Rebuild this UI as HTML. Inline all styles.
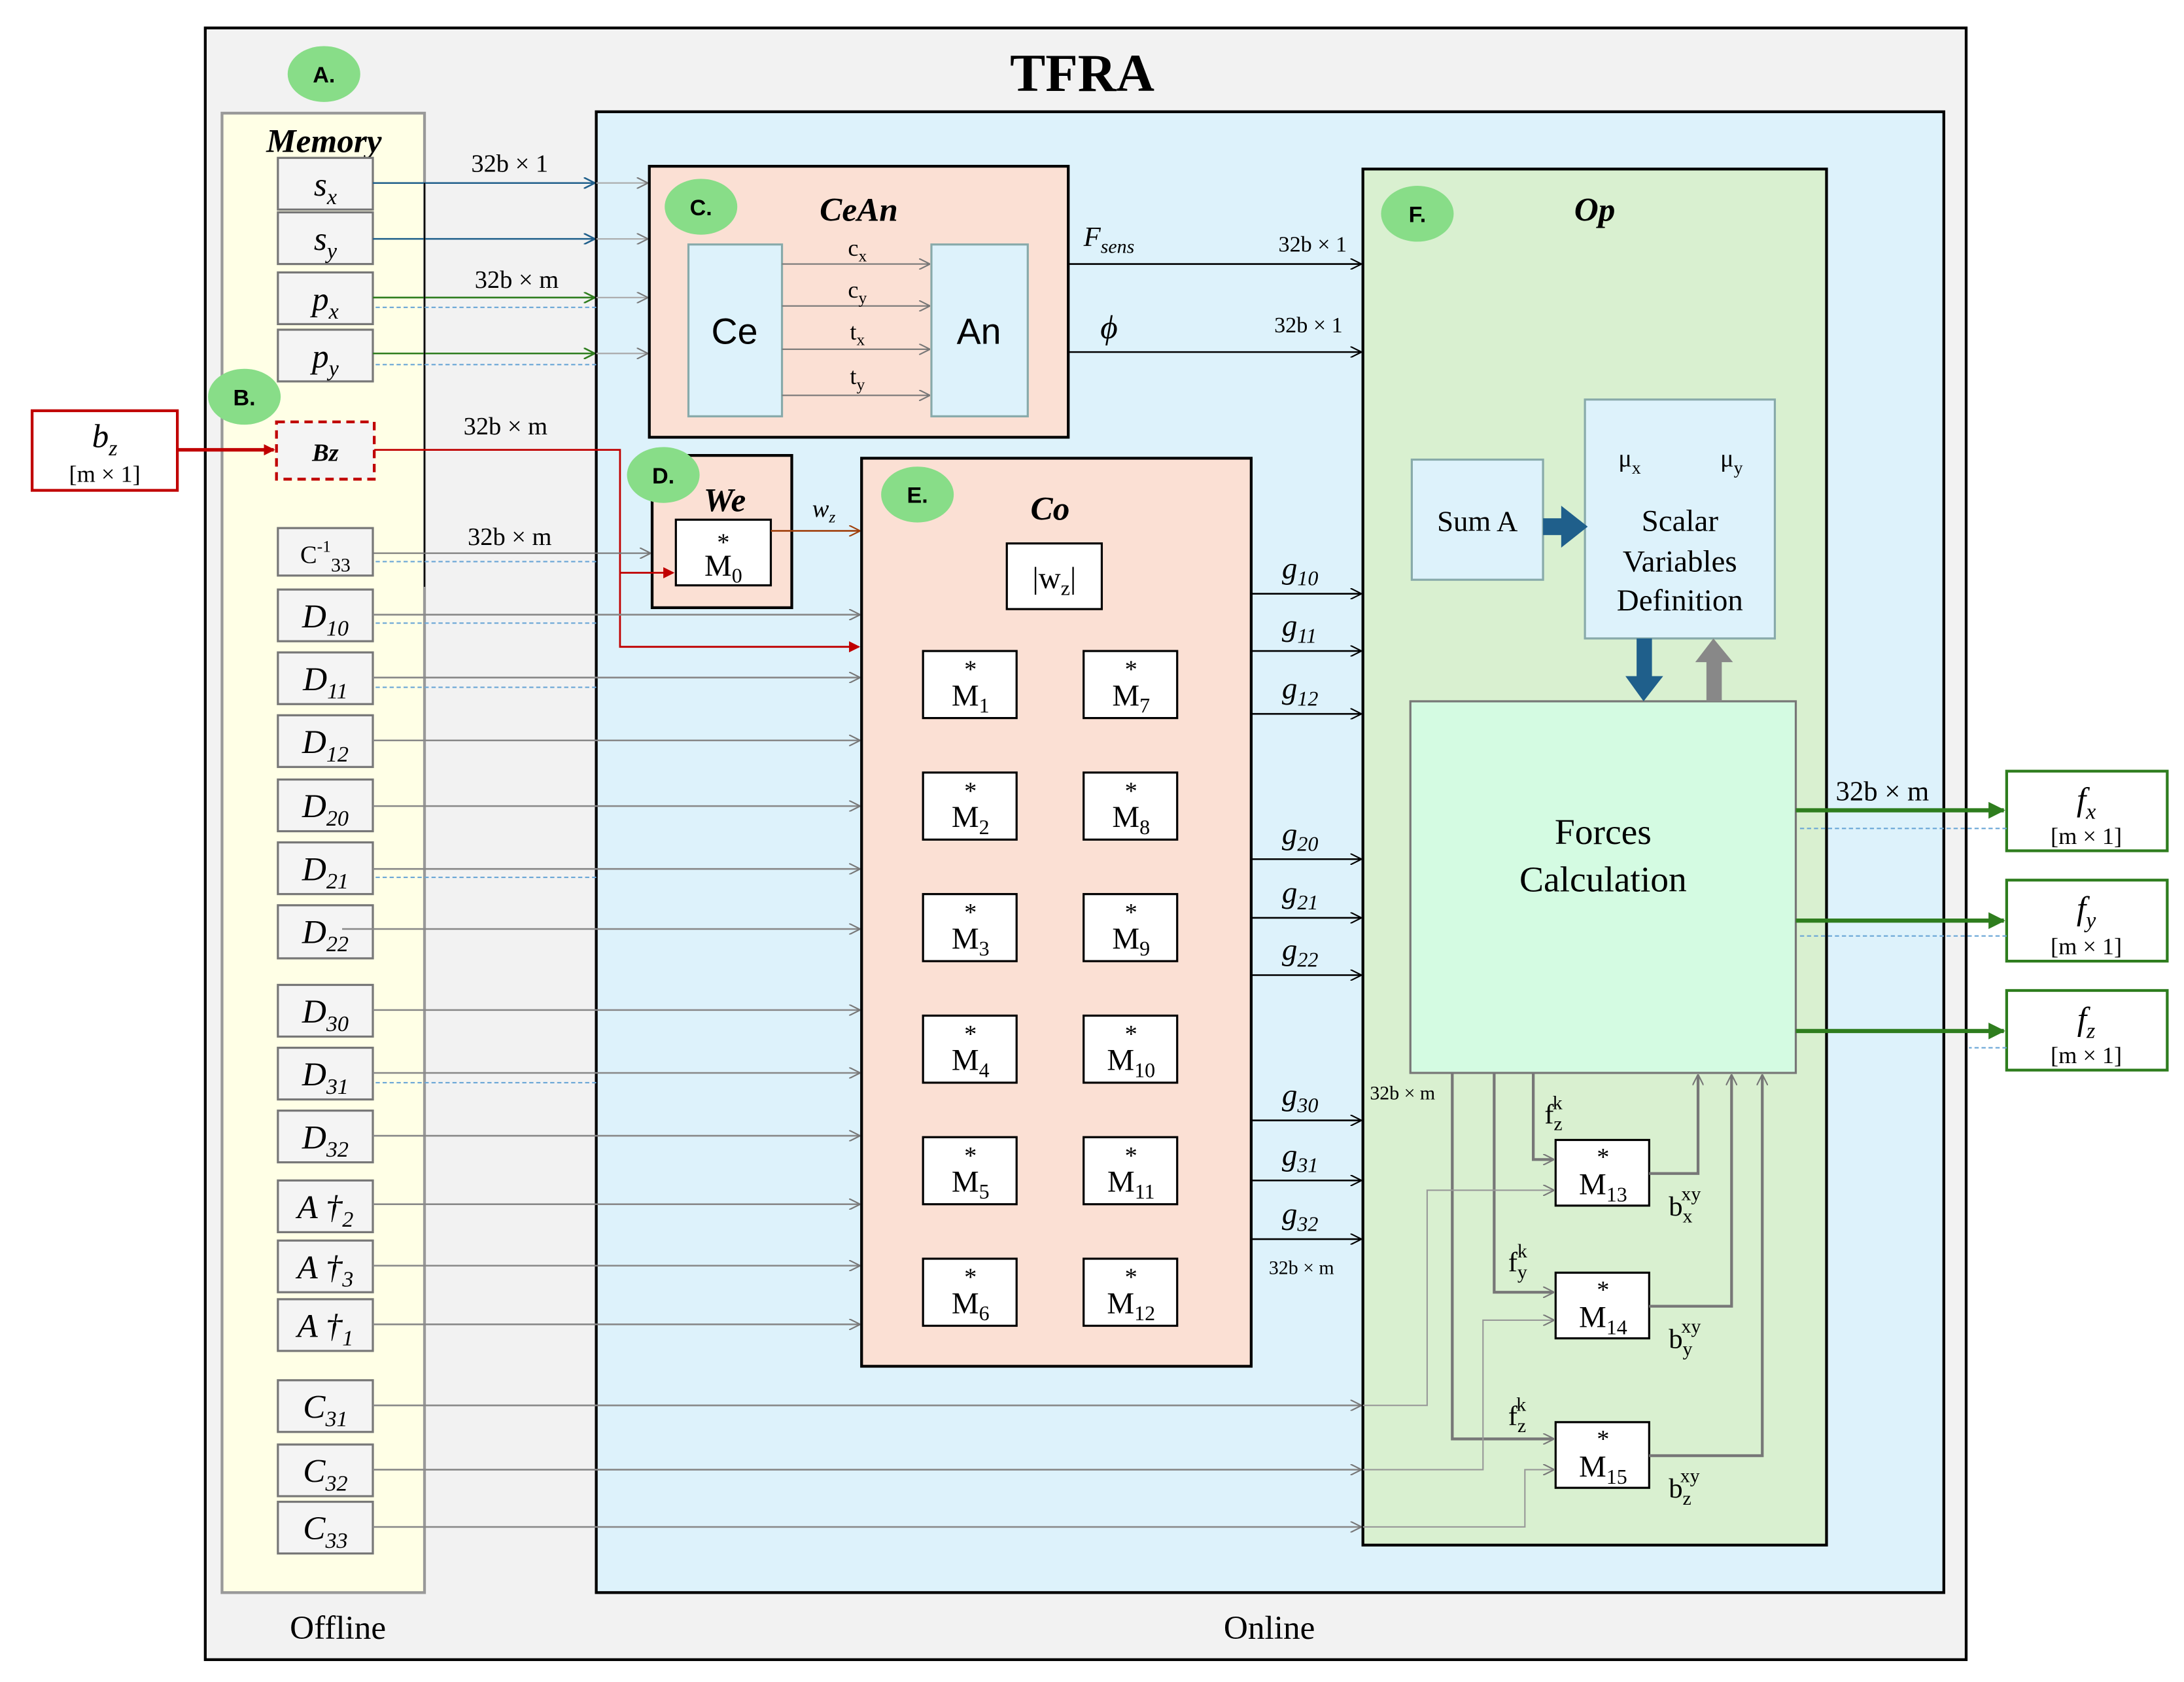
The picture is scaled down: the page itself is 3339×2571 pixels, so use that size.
<!DOCTYPE html>
<html><head><meta charset="utf-8"><style>
html,body{margin:0;padding:0;background:#fff}
svg{display:block}
text{font-family:"Liberation Serif",serif;fill:#000}
</style></head><body>
<svg width="3339" height="2571" viewBox="0 0 1564 1204" preserveAspectRatio="none" xmlns="http://www.w3.org/2000/svg">
<defs>
<marker id="ak" markerWidth="8" markerHeight="8" refX="7" refY="4" orient="auto" markerUnits="userSpaceOnUse"><path d="M0,0 L8,4 L0,8" fill="none" stroke="#000" stroke-width="1"/></marker>
<marker id="ag" markerWidth="8" markerHeight="8" refX="7" refY="4" orient="auto" markerUnits="userSpaceOnUse"><path d="M0,0 L8,4 L0,8" fill="none" stroke="#777" stroke-width="1"/></marker>
<marker id="ab" markerWidth="8" markerHeight="8" refX="7" refY="4" orient="auto" markerUnits="userSpaceOnUse"><path d="M0,0 L8,4 L0,8" fill="none" stroke="#1f5f8b" stroke-width="1.2"/></marker>
<marker id="agr" markerWidth="8" markerHeight="8" refX="7" refY="4" orient="auto" markerUnits="userSpaceOnUse"><path d="M0,0 L8,4 L0,8" fill="none" stroke="#2e7d1e" stroke-width="1.2"/></marker>
<marker id="agr2" markerWidth="12" markerHeight="12" refX="11" refY="6" orient="auto" markerUnits="userSpaceOnUse"><path d="M0,0 L12,6 L0,12 Z" fill="#2e7d1e"/></marker>
<marker id="ar" markerWidth="8" markerHeight="8" refX="7" refY="4" orient="auto" markerUnits="userSpaceOnUse"><path d="M0,0 L8,4 L0,8 Z" fill="#c00000"/></marker>
<marker id="abr" markerWidth="8" markerHeight="8" refX="7" refY="4" orient="auto" markerUnits="userSpaceOnUse"><path d="M0,0 L8,4 L0,8" fill="none" stroke="#a0400c" stroke-width="1"/></marker>
</defs>

<!-- outer -->
<rect x="147" y="20" width="1261" height="1168" fill="#f2f2f2" stroke="#000" stroke-width="2"/>
<text x="775" y="65" font-size="38" font-weight="bold" text-anchor="middle">TFRA</text>

<!-- memory -->
<rect x="159" y="81" width="145" height="1059" fill="#ffffe6" stroke="#999" stroke-width="2"/>
<text x="232" y="109" font-size="24" font-weight="bold" font-style="italic" text-anchor="middle">Memory</text>

<!-- online -->
<rect x="427" y="80" width="965" height="1060" fill="#ddf2fb" stroke="#000" stroke-width="2"/>

<text x="242" y="1173" font-size="24" text-anchor="middle">Offline</text>
<text x="909" y="1173" font-size="24" text-anchor="middle">Online</text>

<!-- memory items -->
<g fill="#f4f4f4" stroke="#777" stroke-width="1.5">
<rect x="199" y="113" width="68" height="37"/>
<rect x="199" y="152" width="68" height="37"/>
<rect x="199" y="195" width="68" height="37"/>
<rect x="199" y="236" width="68" height="37"/>
<rect x="199" y="378" width="68" height="34"/>
<rect x="199" y="422" width="68" height="37"/>
<rect x="199" y="467" width="68" height="37"/>
<rect x="199" y="512" width="68" height="37"/>
<rect x="199" y="558" width="68" height="37"/>
<rect x="199" y="603" width="68" height="37"/>
<rect x="199" y="648" width="68" height="38"/>
<rect x="199" y="705" width="68" height="37"/>
<rect x="199" y="750" width="68" height="37"/>
<rect x="199" y="795" width="68" height="37"/>
<rect x="199" y="845" width="68" height="37"/>
<rect x="199" y="888" width="68" height="37"/>
<rect x="199" y="930" width="68" height="37"/>
<rect x="199" y="988" width="68" height="37"/>
<rect x="199" y="1034" width="68" height="37"/>
<rect x="199" y="1075" width="68" height="37"/>
</g>
<rect x="198" y="302" width="70" height="41" fill="#f4f4f4" stroke="#c00000" stroke-width="2" stroke-dasharray="6,4"/>
<g font-size="24" font-style="italic" text-anchor="middle">
<text x="233" y="140">s<tspan font-size="16" dy="6">x</tspan></text>
<text x="233" y="179">s<tspan font-size="16" dy="6">y</tspan></text>
<text x="233" y="222">p<tspan font-size="16" dy="6">x</tspan></text>
<text x="233" y="263">p<tspan font-size="16" dy="6">y</tspan></text>
<text x="233" y="330" font-size="18" font-weight="bold">Bz</text>
<text x="233" y="403" font-size="18" font-style="normal">C<tspan font-size="12" dy="-8">-1</tspan><tspan font-size="14" dy="14">33</tspan></text>
<text x="233" y="449">D<tspan font-size="16" dy="6">10</tspan></text>
<text x="233" y="494">D<tspan font-size="16" dy="6">11</tspan></text>
<text x="233" y="539">D<tspan font-size="16" dy="6">12</tspan></text>
<text x="233" y="585">D<tspan font-size="16" dy="6">20</tspan></text>
<text x="233" y="630">D<tspan font-size="16" dy="6">21</tspan></text>
<text x="233" y="675">D<tspan font-size="16" dy="6">22</tspan></text>
<text x="233" y="732">D<tspan font-size="16" dy="6">30</tspan></text>
<text x="233" y="777">D<tspan font-size="16" dy="6">31</tspan></text>
<text x="233" y="822">D<tspan font-size="16" dy="6">32</tspan></text>
<text x="233" y="872">A †<tspan font-size="16" dy="6">2</tspan></text>
<text x="233" y="915">A †<tspan font-size="16" dy="6">3</tspan></text>
<text x="233" y="957">A †<tspan font-size="16" dy="6">1</tspan></text>
<text x="233" y="1015">C<tspan font-size="16" dy="6">31</tspan></text>
<text x="233" y="1061">C<tspan font-size="16" dy="6">32</tspan></text>
<text x="233" y="1102">C<tspan font-size="16" dy="6">33</tspan></text>
</g>

<!-- bz input -->
<rect x="23" y="294" width="104" height="57" fill="#fff" stroke="#c00000" stroke-width="2"/>
<text x="75" y="320" font-size="24" font-style="italic" text-anchor="middle">b<tspan font-size="16" dy="6">z</tspan></text>
<text x="75" y="345" font-size="17" text-anchor="middle">[m × 1]</text>
<line x1="127" y1="322" x2="196" y2="322" stroke="#c00000" stroke-width="2.5" marker-end="url(#ar)"/>

<!-- CeAn -->
<rect x="465" y="119" width="300" height="194" fill="#fbe0d4" stroke="#000" stroke-width="2"/>
<text x="615" y="158" font-size="24" font-weight="bold" font-style="italic" text-anchor="middle">CeAn</text>
<rect x="493" y="175" width="67" height="123" fill="#ddf2fb" stroke="#8aa" stroke-width="1.5"/>
<rect x="667" y="175" width="69" height="123" fill="#ddf2fb" stroke="#8aa" stroke-width="1.5"/>
<text x="526" y="246" font-size="26" font-family="Liberation Sans" text-anchor="middle" style="font-family:'Liberation Sans',sans-serif">Ce</text>
<text x="701" y="246" font-size="26" text-anchor="middle" style="font-family:'Liberation Sans',sans-serif">An</text>
<g stroke="#777" stroke-width="1">
<line x1="560" y1="189" x2="665" y2="189" marker-end="url(#ag)"/>
<line x1="560" y1="219" x2="665" y2="219" marker-end="url(#ag)"/>
<line x1="560" y1="250" x2="665" y2="250" marker-end="url(#ag)"/>
<line x1="560" y1="283" x2="665" y2="283" marker-end="url(#ag)"/>
</g>
<g font-size="17" text-anchor="middle">
<text x="614" y="183">c<tspan font-size="12" dy="4">x</tspan></text>
<text x="614" y="213">c<tspan font-size="12" dy="4">y</tspan></text>
<text x="614" y="243">t<tspan font-size="12" dy="4">x</tspan></text>
<text x="614" y="275">t<tspan font-size="12" dy="4">y</tspan></text>
</g>

<!-- We -->
<rect x="467" y="326" width="100" height="109" fill="#fbe0d4" stroke="#000" stroke-width="2"/>
<text x="519" y="366" font-size="24" font-weight="bold" font-style="italic" text-anchor="middle">We</text>
<rect x="484" y="372" width="68" height="47" fill="#fff" stroke="#000" stroke-width="1.5"/>
<text x="518" y="394" font-size="18" text-anchor="middle">*</text>
<text x="518" y="412" font-size="22" text-anchor="middle">M<tspan font-size="15" dy="5">0</tspan></text>

<!-- Co -->
<rect x="617" y="328" width="279" height="650" fill="#fbe0d4" stroke="#000" stroke-width="2"/>
<text x="752" y="372" font-size="24" font-weight="bold" font-style="italic" text-anchor="middle">Co</text>
<rect x="721" y="389" width="68" height="47" fill="#fff" stroke="#000" stroke-width="1.5"/>
<text x="755" y="421" font-size="22" text-anchor="middle">|w<tspan font-size="15" dy="5">z</tspan><tspan dy="-5">|</tspan></text>
<g fill="#fff" stroke="#000" stroke-width="1.5">
<rect x="661" y="466" width="67" height="48"/><rect x="776" y="466" width="67" height="48"/>
<rect x="661" y="553" width="67" height="48"/><rect x="776" y="553" width="67" height="48"/>
<rect x="661" y="640" width="67" height="48"/><rect x="776" y="640" width="67" height="48"/>
<rect x="661" y="727" width="67" height="48"/><rect x="776" y="727" width="67" height="48"/>
<rect x="661" y="814" width="67" height="48"/><rect x="776" y="814" width="67" height="48"/>
<rect x="661" y="901" width="67" height="48"/><rect x="776" y="901" width="67" height="48"/>
</g>
<g font-size="22" text-anchor="middle">
<text x="695" y="485" font-size="18">*</text><text x="695" y="505">M<tspan font-size="15" dy="5">1</tspan></text>
<text x="810" y="485" font-size="18">*</text><text x="810" y="505">M<tspan font-size="15" dy="5">7</tspan></text>
<text x="695" y="572" font-size="18">*</text><text x="695" y="592">M<tspan font-size="15" dy="5">2</tspan></text>
<text x="810" y="572" font-size="18">*</text><text x="810" y="592">M<tspan font-size="15" dy="5">8</tspan></text>
<text x="695" y="659" font-size="18">*</text><text x="695" y="679">M<tspan font-size="15" dy="5">3</tspan></text>
<text x="810" y="659" font-size="18">*</text><text x="810" y="679">M<tspan font-size="15" dy="5">9</tspan></text>
<text x="695" y="746" font-size="18">*</text><text x="695" y="766">M<tspan font-size="15" dy="5">4</tspan></text>
<text x="810" y="746" font-size="18">*</text><text x="810" y="766">M<tspan font-size="15" dy="5">10</tspan></text>
<text x="695" y="833" font-size="18">*</text><text x="695" y="853">M<tspan font-size="15" dy="5">5</tspan></text>
<text x="810" y="833" font-size="18">*</text><text x="810" y="853">M<tspan font-size="15" dy="5">11</tspan></text>
<text x="695" y="920" font-size="18">*</text><text x="695" y="940">M<tspan font-size="15" dy="5">6</tspan></text>
<text x="810" y="920" font-size="18">*</text><text x="810" y="940">M<tspan font-size="15" dy="5">12</tspan></text>
</g>

<!-- Op -->
<rect x="976" y="121" width="332" height="985" fill="#d9f0d0" stroke="#000" stroke-width="2"/>
<text x="1142" y="158" font-size="24" font-weight="bold" font-style="italic" text-anchor="middle">Op</text>
<rect x="1011" y="329" width="94" height="86" fill="#ddf2fb" stroke="#8aa" stroke-width="1.5"/>
<text x="1058" y="380" font-size="21" text-anchor="middle">Sum A</text>
<rect x="1135" y="286" width="136" height="171" fill="#ddf2fb" stroke="#8aa" stroke-width="1.5"/>
<text x="1167" y="334" font-size="18" text-anchor="middle">μ<tspan font-size="13" dy="5">x</tspan></text>
<text x="1240" y="334" font-size="18" text-anchor="middle">μ<tspan font-size="13" dy="5">y</tspan></text>
<text x="1203" y="380" font-size="22" text-anchor="middle">Scalar</text>
<text x="1203" y="409" font-size="22" text-anchor="middle">Variables</text>
<text x="1203" y="437" font-size="22" text-anchor="middle">Definition</text>
<rect x="1010" y="502" width="276" height="266" fill="#d4fbe2" stroke="#777" stroke-width="1.5"/>
<text x="1148" y="604" font-size="26" text-anchor="middle">Forces</text>
<text x="1148" y="638" font-size="26" text-anchor="middle">Calculation</text>
<!-- thick arrows -->
<rect x="1105" y="371" width="15" height="12" fill="#1f5f8b"/><path d="M1118,362 L1137,377 L1118,392 Z" fill="#1f5f8b"/>
<rect x="1172" y="457" width="11" height="28" fill="#1f5f8b"/><path d="M1164,484 L1191,484 L1177,502 Z" fill="#1f5f8b"/>
<rect x="1222" y="473" width="11" height="29" fill="#888"/><path d="M1214,474 L1241,474 L1227,457 Z" fill="#888"/>

<g fill="#fff" stroke="#000" stroke-width="1.5">
<rect x="1114" y="816" width="67" height="47"/>
<rect x="1114" y="911" width="67" height="47"/>
<rect x="1114" y="1018" width="67" height="47"/>
</g>
<g font-size="22" text-anchor="middle">
<text x="1148" y="834" font-size="18">*</text><text x="1148" y="855">M<tspan font-size="15" dy="5">13</tspan></text>
<text x="1148" y="929" font-size="18">*</text><text x="1148" y="950">M<tspan font-size="15" dy="5">14</tspan></text>
<text x="1148" y="1036" font-size="18">*</text><text x="1148" y="1057">M<tspan font-size="15" dy="5">15</tspan></text>
</g>
<g font-size="20">
<text x="1106" y="804">f<tspan font-size="14" dy="5">z</tspan><tspan font-size="14" dx="-7" dy="-15">k</tspan></text>
<text x="1080" y="910">f<tspan font-size="14" dy="5">y</tspan><tspan font-size="14" dx="-7" dy="-15">k</tspan></text>
<text x="1080" y="1020">f<tspan font-size="14" dy="5">z</tspan><tspan font-size="14" dx="-7" dy="-15">k</tspan></text>
<text x="1195" y="870">b<tspan font-size="14" dy="5">x</tspan><tspan font-size="14" dx="-8" dy="-16">xy</tspan></text>
<text x="1195" y="965">b<tspan font-size="14" dy="5">y</tspan><tspan font-size="14" dx="-8" dy="-16">xy</tspan></text>
<text x="1195" y="1072">b<tspan font-size="14" dy="5">z</tspan><tspan font-size="14" dx="-8" dy="-16">xy</tspan></text>
</g>
<text x="981" y="787" font-size="14">32b × m</text>
<!-- inner gray connectors -->
<g stroke="#777" stroke-width="2" fill="none">
<polyline points="1098,768 1098,830 1112,830" marker-end="url(#ag)"/>
<polyline points="1070,768 1070,925 1112,925" marker-end="url(#ag)"/>
<polyline points="1040,768 1040,1030 1112,1030" marker-end="url(#ag)"/>
<polyline points="1181,840 1216,840 1216,770" marker-end="url(#ag)"/>
<polyline points="1181,935 1240,935 1240,770" marker-end="url(#ag)"/>
<polyline points="1181,1042 1262,1042 1262,770" marker-end="url(#ag)"/>
</g>
<g stroke="#999" stroke-width="1" fill="none">
<polyline points="976,1006 1022,1006 1022,852 1112,852" marker-end="url(#ag)"/>
<polyline points="976,1052 1062,1052 1062,945 1112,945" marker-end="url(#ag)"/>
<polyline points="976,1093 1092,1093 1092,1052 1112,1052" marker-end="url(#ag)"/>
</g>

<!-- outputs -->
<g fill="#fff" stroke="#2e7d1e" stroke-width="2">
<rect x="1437" y="552" width="115" height="57"/>
<rect x="1437" y="630" width="115" height="58"/>
<rect x="1437" y="709" width="115" height="57"/>
</g>
<g text-anchor="middle">
<text x="1494" y="580" font-size="24" font-style="italic">f<tspan font-size="16" dy="6">x</tspan></text><text x="1494" y="604" font-size="17">[m × 1]</text>
<text x="1494" y="658" font-size="24" font-style="italic">f<tspan font-size="16" dy="6">y</tspan></text><text x="1494" y="683" font-size="17">[m × 1]</text>
<text x="1494" y="737" font-size="24" font-style="italic">f<tspan font-size="16" dy="6">z</tspan></text><text x="1494" y="761" font-size="17">[m × 1]</text>
</g>
<g stroke="#2e7d1e" stroke-width="3">
<line x1="1286" y1="580" x2="1435" y2="580" marker-end="url(#agr2)"/>
<line x1="1286" y1="659" x2="1435" y2="659" marker-end="url(#agr2)"/>
<line x1="1286" y1="738" x2="1435" y2="738" marker-end="url(#agr2)"/>
</g>
<g stroke="#6aa6d6" stroke-width="1" stroke-dasharray="3,2">
<line x1="1437" y1="593" x2="1288" y2="593"/>
<line x1="1437" y1="670" x2="1288" y2="670"/>
<line x1="1437" y1="750" x2="1410" y2="750"/>
</g>
<text x="1348" y="573" font-size="20" text-anchor="middle">32b × m</text>

<!-- memory to online arrows -->
<line x1="267" y1="131" x2="425" y2="131" stroke="#1f5f8b" stroke-width="1.2" marker-end="url(#ab)"/>
<line x1="267" y1="171" x2="425" y2="171" stroke="#1f5f8b" stroke-width="1.2" marker-end="url(#ab)"/>
<line x1="267" y1="213" x2="425" y2="213" stroke="#2e7d1e" stroke-width="1.2" marker-end="url(#agr)"/>
<line x1="267" y1="253" x2="425" y2="253" stroke="#2e7d1e" stroke-width="1.2" marker-end="url(#agr)"/>
<g stroke="#aaa" stroke-width="1">
<line x1="427" y1="131" x2="463" y2="131" marker-end="url(#ag)"/>
<line x1="427" y1="171" x2="463" y2="171" marker-end="url(#ag)"/>
<line x1="427" y1="213" x2="463" y2="213" marker-end="url(#ag)"/>
<line x1="427" y1="253" x2="463" y2="253" marker-end="url(#ag)"/>
</g>
<line x1="304" y1="131" x2="304" y2="420" stroke="#000" stroke-width="1"/>
<g font-size="18" text-anchor="middle">
<text x="365" y="123">32b × 1</text>
<text x="370" y="206">32b × m</text>
<text x="362" y="311">32b × m</text>
<text x="365" y="390">32b × m</text>
</g>
<!-- Bz red -->
<g stroke="#c00000" stroke-width="1.3" fill="none">
<polyline points="268,322 444,322 444,463 615,463" marker-end="url(#ar)"/>
<polyline points="444,410 482,410" marker-end="url(#ar)"/>
</g>
<line x1="267" y1="396" x2="465" y2="396" stroke="#777" stroke-width="1" marker-end="url(#ag)"/>
<line x1="552" y1="380" x2="615" y2="380" stroke="#a0400c" stroke-width="1.2" marker-end="url(#abr)"/>
<text x="590" y="370" font-size="18" font-style="italic" text-anchor="middle">w<tspan font-size="12" dy="4">z</tspan></text>

<g stroke="#888" stroke-width="1.2">
<line x1="267" y1="440" x2="615" y2="440" marker-end="url(#ag)"/>
<line x1="267" y1="485" x2="615" y2="485" marker-end="url(#ag)"/>
<line x1="267" y1="530" x2="615" y2="530" marker-end="url(#ag)"/>
<line x1="267" y1="577" x2="615" y2="577" marker-end="url(#ag)"/>
<line x1="267" y1="622" x2="615" y2="622" marker-end="url(#ag)"/>
<line x1="245" y1="665" x2="615" y2="665" marker-end="url(#ag)"/>
<line x1="267" y1="723" x2="615" y2="723" marker-end="url(#ag)"/>
<line x1="267" y1="768" x2="615" y2="768" marker-end="url(#ag)"/>
<line x1="267" y1="813" x2="615" y2="813" marker-end="url(#ag)"/>
<line x1="267" y1="862" x2="615" y2="862" marker-end="url(#ag)"/>
<line x1="267" y1="906" x2="615" y2="906" marker-end="url(#ag)"/>
<line x1="267" y1="948" x2="615" y2="948" marker-end="url(#ag)"/>
<line x1="267" y1="1006" x2="974" y2="1006" marker-end="url(#ag)"/>
<line x1="267" y1="1052" x2="974" y2="1052" marker-end="url(#ag)"/>
<line x1="267" y1="1093" x2="974" y2="1093" marker-end="url(#ag)"/>
</g>
<g stroke="#6aa6d6" stroke-width="1" stroke-dasharray="3,2">
<line x1="427" y1="220" x2="269" y2="220"/>
<line x1="427" y1="261" x2="269" y2="261"/>
<line x1="427" y1="402" x2="269" y2="402"/>
<line x1="427" y1="446" x2="269" y2="446"/>
<line x1="427" y1="492" x2="269" y2="492"/>
<line x1="427" y1="628" x2="269" y2="628"/>
<line x1="427" y1="775" x2="269" y2="775"/>
</g>

<!-- CeAn outputs -->
<line x1="765" y1="189" x2="974" y2="189" stroke="#000" stroke-width="1.2" marker-end="url(#ak)"/>
<line x1="765" y1="252" x2="974" y2="252" stroke="#000" stroke-width="1.2" marker-end="url(#ak)"/>
<text x="776" y="176" font-size="20" font-style="italic">F<tspan font-size="14" dy="5">sens</tspan></text>
<text x="788" y="242" font-size="24" font-style="italic">ϕ</text>
<text x="940" y="180" font-size="16" text-anchor="middle">32b × 1</text>
<text x="937" y="238" font-size="16" text-anchor="middle">32b × 1</text>

<!-- g outputs -->
<g stroke="#000" stroke-width="1.2">
<line x1="896" y1="425" x2="974" y2="425" marker-end="url(#ak)"/>
<line x1="896" y1="466" x2="974" y2="466" marker-end="url(#ak)"/>
<line x1="896" y1="511" x2="974" y2="511" marker-end="url(#ak)"/>
<line x1="896" y1="615" x2="974" y2="615" marker-end="url(#ak)"/>
<line x1="896" y1="657" x2="974" y2="657" marker-end="url(#ak)"/>
<line x1="896" y1="698" x2="974" y2="698" marker-end="url(#ak)"/>
<line x1="896" y1="802" x2="974" y2="802" marker-end="url(#ak)"/>
<line x1="896" y1="845" x2="974" y2="845" marker-end="url(#ak)"/>
<line x1="896" y1="887" x2="974" y2="887" marker-end="url(#ak)"/>
</g>
<g font-size="22" font-style="italic">
<text x="918" y="414">g<tspan font-size="15" dy="5">10</tspan></text>
<text x="918" y="455">g<tspan font-size="15" dy="5">11</tspan></text>
<text x="918" y="500">g<tspan font-size="15" dy="5">12</tspan></text>
<text x="918" y="604">g<tspan font-size="15" dy="5">20</tspan></text>
<text x="918" y="646">g<tspan font-size="15" dy="5">21</tspan></text>
<text x="918" y="687">g<tspan font-size="15" dy="5">22</tspan></text>
<text x="918" y="791">g<tspan font-size="15" dy="5">30</tspan></text>
<text x="918" y="834">g<tspan font-size="15" dy="5">31</tspan></text>
<text x="918" y="876">g<tspan font-size="15" dy="5">32</tspan></text>
</g>
<text x="932" y="912" font-size="14" text-anchor="middle">32b × m</text>

<!-- green labels -->
<g fill="#88dd88">
<ellipse cx="232" cy="53" rx="26" ry="20"/>
<ellipse cx="175" cy="284" rx="26" ry="20"/>
<ellipse cx="502" cy="148" rx="26" ry="20"/>
<ellipse cx="475" cy="340" rx="26" ry="20"/>
<ellipse cx="657" cy="354" rx="26" ry="20"/>
<ellipse cx="1015" cy="153" rx="26" ry="20"/>
</g>
<g font-size="16" font-weight="bold" text-anchor="middle" style="font-family:'Liberation Sans',sans-serif">
<text x="232" y="59" style="font-family:'Liberation Sans',sans-serif">A.</text>
<text x="175" y="290" style="font-family:'Liberation Sans',sans-serif">B.</text>
<text x="502" y="154" style="font-family:'Liberation Sans',sans-serif">C.</text>
<text x="475" y="346" style="font-family:'Liberation Sans',sans-serif">D.</text>
<text x="657" y="360" style="font-family:'Liberation Sans',sans-serif">E.</text>
<text x="1015" y="159" style="font-family:'Liberation Sans',sans-serif">F.</text>
</g>
</svg>
</body></html>
